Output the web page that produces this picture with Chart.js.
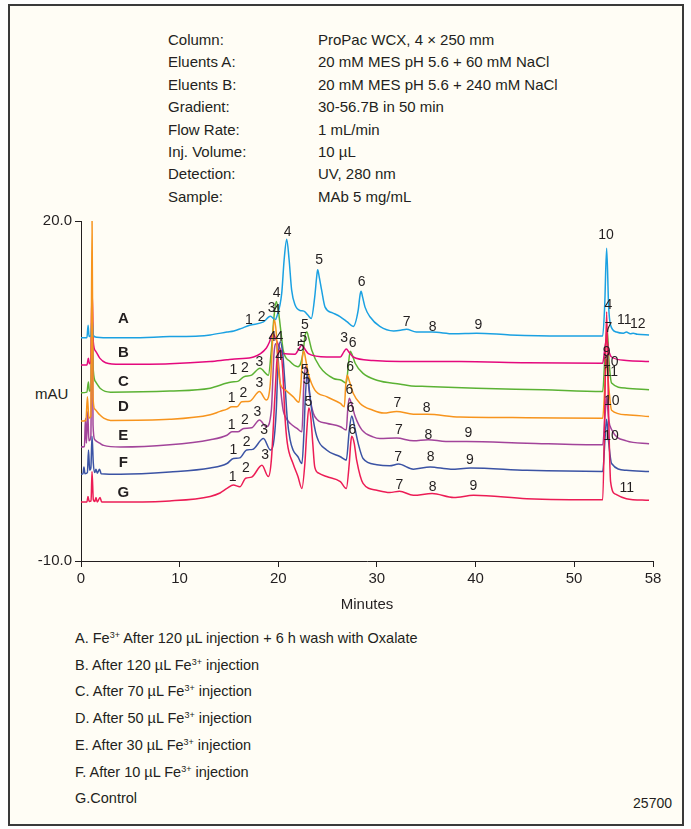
<!DOCTYPE html>
<html>
<head>
<meta charset="utf-8">
<script src="https://cdn.jsdelivr.net/npm/chart.js@4.4.1/dist/chart.umd.min.js"></script>
<style>
  html, body { margin: 0; padding: 0; background: #fff; }
  body { width: 691px; height: 829px; position: relative; overflow: hidden;
         font-family: "Liberation Sans", Arial, sans-serif; color: #231f20; }
  #frame { position: absolute; left: 8px; top: 4px; width: 672px; height: 818px;
           border: 2px solid #3a3a3a; background: #fffdf5; }
  .meta { position: absolute; top: 29px; font-size: 15px; line-height: 22.4px; white-space: nowrap; }
  .legend { position: absolute; left: 75px; top: 625px; font-size: 14.5px; line-height: 26.7px; white-space: nowrap; }
  sup { font-size: 9px; vertical-align: 5px; line-height: 0; }
  #mau { position: absolute; left: 35px; top: 385px; font-size: 15px; }
  #code { position: absolute; right: 19px; top: 795px; font-size: 14px; }
  #wrap { position: absolute; left: 10px; top: 205px; width: 672px; height: 413px; }
</style>
</head>
<body>
<div id="frame"></div>

<div class="meta" style="left:168px">Column:<br>Eluents A:<br>Eluents B:<br>Gradient:<br>Flow Rate:<br>Inj. Volume:<br>Detection:<br>Sample:</div>
<div class="meta" style="left:318px">ProPac WCX, 4 × 250 mm<br>20 mM MES pH 5.6 + 60 mM NaCl<br>20 mM MES pH 5.6 + 240 mM NaCl<br>30-56.7B in 50 min<br>1 mL/min<br>10 µL<br>UV, 280 nm<br>MAb 5 mg/mL</div>

<div id="mau">mAU</div>
<div id="wrap"><canvas id="chromChart" width="672" height="413"></canvas></div>

<div class="legend">
  A. Fe<sup>3+</sup> After 120 µL injection + 6 h wash with Oxalate<br>
  B. After 120 µL Fe<sup>3+</sup> injection<br>
  C. After 70 µL Fe<sup>3+</sup> injection<br>
  D. After 50 µL Fe<sup>3+</sup> injection<br>
  E. After 30 µL Fe<sup>3+</sup> injection<br>
  F. After 10 µL Fe<sup>3+</sup> injection<br>
  G.Control
</div>
<div id="code">25700</div>

<script>
// Traces: [minutes, mAU] (stacked offsets included)
const traceA = [[0, 9.7], [0.6, 9.7], [0.72, 10.8], [0.82, 9.8], [1.0, 9.9], [1.12, 11.4], [1.25, 9.9], [1.6, 9.75],
  [2.5, 9.7], [5, 9.7], [9, 9.8], [12, 9.85], [13.1, 9.95], [14.8, 10.2], [15.5, 10.3], [16.2, 10.5], [17.1, 10.8],
  [18.5, 11.1], [19.2, 11.6], [19.7, 11.3], [19.85, 11.55], [20.35, 13.6], [20.6, 16.6], [20.86, 18.4], [21.1, 16.6],
  [21.36, 13.9], [21.7, 12.6], [22.2, 12.1], [22.6, 12.05], [23.0, 11.7], [23.35, 11.4], [23.7, 13.3], [23.9, 15.1],
  [24.0, 15.7], [24.15, 15.1], [24.4, 13.9], [24.75, 12.4], [25.5, 11.9], [26.3, 11.55], [27.0, 11.1], [27.6, 10.7],
  [28.1, 12.1], [28.3, 13.5], [28.4, 13.8], [28.55, 13.3], [28.8, 12.4], [29.3, 11.55], [30.3, 10.7], [31.7, 10.3],
  [32.4, 10.35], [33.0, 10.45], [34.0, 10.2], [35.6, 10.2], [37.8, 10.05], [40.1, 10.1], [43.5, 9.95], [48.6, 9.85],
  [52.9, 9.85], [53.1, 12.5], [53.3, 17.6], [53.5, 12.5], [53.7, 10.8], [54.3, 10.2], [55.0, 10.1], [55.3, 10.2],
  [55.7, 10.05], [56.0, 10.1], [56.4, 10.0], [57.6, 9.95]];

const traceB = [[0, 7.3], [0.6, 7.3], [0.75, 7.9], [0.85, 7.4], [1.0, 7.6], [1.12, 14.0], [1.25, 9.3], [1.5, 8.5],
  [1.9, 7.9], [2.5, 7.5], [4, 7.35], [9, 7.4], [13.1, 7.6], [14.8, 7.75], [16.0, 7.85], [17.5, 8.0], [18.8, 8.8],
  [19.1, 9.3], [19.45, 10.1], [19.8, 9.5], [20.1, 8.9], [20.5, 8.3], [21.7, 8.25], [22.15, 8.8], [22.4, 9.05],
  [22.7, 8.7], [23.05, 8.3], [24.9, 8.0], [26.3, 8.0], [26.65, 8.45], [26.9, 8.7], [27.2, 8.4], [27.6, 8.0],
  [29.6, 7.7], [32.4, 7.6], [38.4, 7.6], [45.2, 7.5], [52.9, 7.45], [53.15, 9.0], [53.3, 9.6], [53.5, 8.6],
  [53.8, 8.0], [55.3, 7.7], [57.6, 7.6]];

const traceC = [[0, 4.85], [0.6, 4.9], [0.75, 5.8], [0.85, 5.0], [1.0, 5.1], [1.12, 12.0], [1.25, 6.8], [1.5, 5.8],
  [2.0, 5.2], [3, 4.9], [9, 5.0], [13.1, 5.25], [14.8, 5.7], [15.3, 5.8], [15.9, 5.85], [16.5, 6.25], [17.3, 6.4],
  [18.15, 7.0], [19.0, 6.4], [19.3, 8.6], [19.57, 11.55], [19.8, 12.9], [20.0, 12.15], [20.25, 10.4], [20.5, 8.6],
  [21.2, 7.6], [22.0, 7.15], [22.3, 7.5], [22.55, 8.6], [22.7, 9.8], [22.9, 10.2], [23.1, 9.65], [23.4, 8.6],
  [24.2, 7.15], [25.6, 6.1], [26.4, 5.95], [26.9, 5.7], [27.1, 7.2], [27.3, 8.5], [27.5, 8.2], [27.8, 7.45],
  [28.6, 6.55], [30.0, 5.95], [32.4, 5.6], [33.5, 5.45], [35.1, 5.4], [40.1, 5.25], [46.9, 5.1], [52.9, 4.95],
  [53.15, 8.5], [53.35, 10.5], [53.55, 7.5], [53.8, 5.7], [55.3, 5.25], [57.6, 5.1]];

const traceD = [[0, 2.35], [0.5, 2.4], [0.65, 4.5], [0.8, 2.6], [1.0, 2.8], [1.12, 20.3], [1.22, 4.5], [1.4, 3.4],
  [1.9, 2.9], [2.3, 2.6], [3, 2.4], [9, 2.5], [13.1, 2.9], [14.1, 3.2], [14.8, 3.4], [15.3, 3.6], [15.8, 3.6],
  [16.3, 4.05], [17.1, 4.1], [18.1, 4.95], [18.8, 4.2], [19.2, 5.7], [19.45, 9.8], [19.6, 11.3], [19.8, 10.1],
  [19.95, 7.7], [20.2, 5.7], [20.7, 5.1], [21.5, 4.5], [22.1, 4.0], [22.3, 5.6], [22.45, 8.0], [22.6, 8.5],
  [22.8, 7.7], [23.05, 6.55], [23.7, 5.1], [24.9, 4.5], [26.3, 3.9], [26.7, 3.6], [26.85, 5.6], [27.0, 6.4],
  [27.2, 5.9], [27.6, 4.8], [28.3, 3.9], [29.6, 3.3], [30.7, 3.05], [32.0, 3.2], [33.7, 2.95], [35.1, 2.95],
  [38.4, 2.7], [45.2, 2.65], [52.9, 2.6], [53.15, 6.0], [53.3, 7.8], [53.5, 5.5], [53.8, 3.3], [55.3, 2.9],
  [57.6, 2.75]];

const traceE = [[0, 0.05], [0.35, 0.1], [0.45, 2.6], [0.55, 0.4], [0.68, 3.2], [0.8, 0.6], [1.0, 1.0], [1.12, 16.3],
  [1.22, 2.0], [1.4, 0.7], [1.9, 0.4], [2.3, 0.2], [4, 0.05], [9, 0.25], [13.1, 0.7], [14.8, 1.1], [15.3, 1.4],
  [15.9, 1.4], [16.5, 1.7], [17.3, 1.75], [18.1, 2.45], [18.8, 1.85], [19.3, 3.3], [19.57, 8.3], [19.8, 9.2],
  [20.0, 7.7], [20.25, 5.1], [20.5, 3.3], [20.8, 2.6], [21.2, 2.15], [21.9, 1.7], [22.4, 1.4], [22.6, 5.7],
  [22.8, 7.2], [23.05, 5.7], [23.2, 4.5], [23.7, 2.75], [24.9, 2.15], [26.3, 1.85], [26.9, 1.55], [27.05, 3.4],
  [27.2, 4.35], [27.45, 3.8], [27.8, 2.75], [28.5, 1.55], [29.6, 0.95], [30.3, 0.8], [32.0, 0.85], [33.7, 0.6],
  [35.2, 0.7], [37.0, 0.55], [39.1, 0.55], [45.2, 0.4], [52.9, 0.25], [53.15, 3.0], [53.3, 4.5], [53.5, 2.5],
  [53.8, 1.6], [55.3, 0.6], [57.6, 0.35]];

const traceF = [[0, -2.35], [0.2, -2.3], [0.3, -1.7], [0.4, -2.3], [0.65, -2.2], [0.76, -0.2], [0.88, -2.0],
  [1.0, -1.8], [1.12, 1.0], [1.25, -1.4], [1.4, -2.2], [1.52, -1.9], [1.65, -2.25], [1.88, -1.9], [2.05, -2.3],
  [4, -2.35], [9, -2.15], [13.1, -1.8], [14.8, -1.4], [15.45, -0.95], [16.1, -0.9], [16.8, -0.2], [17.4, -0.15],
  [18.5, 0.8], [19.2, -0.2], [19.5, 0.3], [19.8, 3.3], [20.0, 8.0], [20.2, 9.35], [20.45, 8.3], [20.7, 5.4],
  [20.9, 2.7], [21.2, 0.7], [21.5, -0.2], [22.0, -0.8], [22.4, -1.4], [22.6, 1.2], [22.75, 4.5], [22.95, 6.55],
  [23.15, 5.1], [23.4, 3.3], [23.9, 1.0], [24.9, -0.2], [26.3, -0.8], [26.9, -1.1], [27.2, 1.5], [27.45, 2.8],
  [27.7, 2.0], [28.1, 0.4], [28.6, -0.95], [30.0, -1.5], [31.3, -1.6], [32.2, -1.45], [33.7, -1.9], [35.4, -1.7],
  [37.5, -1.9], [39.5, -1.8], [45.2, -2.0], [52.9, -2.1], [53.15, 1.0], [53.3, 2.5], [53.5, 0.5], [53.8, -1.4],
  [55.3, -2.0], [57.6, -2.1]];

const traceG = [[0, -4.8], [0.6, -4.8], [0.71, -4.3], [0.82, -4.75], [1.02, -4.7], [1.12, -2.1], [1.25, -4.6],
  [1.4, -4.75], [1.52, -4.4], [1.65, -4.8], [1.93, -4.4], [2.1, -4.8], [4, -4.8], [9, -4.7], [13.1, -4.3],
  [14.1, -4.0], [14.8, -3.6], [15.45, -3.3], [16.1, -3.45], [16.7, -2.7], [17.3, -2.6], [18.35, -1.55],
  [19.0, -2.55], [19.3, -1.1], [19.66, 4.5], [19.9, 8.0], [20.2, 8.6], [20.45, 6.85], [20.68, 2.75], [20.92, 0.4],
  [21.5, -1.4], [22.0, -2.55], [22.4, -3.6], [22.7, -1.4], [22.9, 1.55], [23.1, 3.5], [23.3, 2.7], [23.5, 0.4],
  [23.7, -1.7], [24.1, -2.25], [24.9, -2.55], [26.3, -3.0], [26.9, -3.6], [27.2, -1.4], [27.35, 0.4], [27.45, 1.0],
  [27.7, 0.4], [27.95, -1.1], [28.6, -3.15], [30.0, -3.75], [31.3, -3.95], [32.3, -3.85], [33.7, -4.2],
  [35.6, -4.05], [37.8, -4.4], [39.8, -4.2], [45.2, -4.5], [52.9, -4.6], [53.1, 3.0], [53.3, 12.0], [53.5, 3.0],
  [53.7, -3.0], [54.2, -4.1], [55.3, -4.5], [57.6, -4.65]];

const traceNames = ['A', 'B', 'C', 'D', 'E', 'F', 'G'];
const traceLetterY = [11.4, 8.33, 5.82, 3.62, 1.03, -1.38, -3.97];  // mAU where the bold letters sit
const traceLetterMin = 4.29;
const xTicks = [0, 10, 20, 30, 40, 50, 58];
const yTicks = [-10, 20];

// Peak numbers: [text, minutes, mAU]
const peakLabels = [
  ['1', 17.03, 11.26], ['2', 18.32, 11.56], ['3', 19.34, 12.3], ['4', 19.84, 13.62], ['4', 19.84, 12.15],
  ['4', 20.96, 19.06], ['5', 24.16, 16.56], ['6', 28.46, 14.64], ['7', 33.03, 11.11], ['8', 35.66, 10.67],
  ['9', 40.29, 10.82], ['10', 53.24, 18.76], ['11', 55.09, 11.26], ['12', 56.45, 10.91],
  ['4', 53.47, 12.59], ['7', 53.47, 10.53], ['9', 53.31, 8.47], ['10', 53.71, 7.58], ['11', 53.71, 6.7],
  ['10', 53.81, 4.14], ['10', 53.74, 1.03], ['11', 55.33, -3.59],
  ['5', 22.71, 10.82], ['5', 22.54, 9.65], ['5', 22.28, 8.91], ['5', 22.71, 6.85], ['5', 22.89, 5.97],
  ['5', 23.05, 4.06], ['3', 26.67, 9.65], ['6', 27.55, 9.21], ['6', 27.28, 7.14], ['6', 27.21, 5.09],
  ['6', 27.35, 3.47], ['6', 27.51, 1.56], ['4', 19.4, 9.79], ['4', 20.11, 9.79], ['4', 20.08, 8.09],
  ['1', 15.44, 6.85], ['2', 16.63, 7.0], ['3', 18.08, 7.59],
  ['1', 15.28, 4.36], ['2', 16.46, 4.85], ['3', 18.08, 5.68], ['7', 32.07, 3.97], ['8', 35.05, 3.47],
  ['1', 15.28, 2.0], ['2', 16.63, 2.44], ['3', 17.88, 3.17], ['7', 32.24, 1.56], ['8', 35.22, 1.12], ['9', 39.27, 1.27],
  ['1', 15.44, -0.21], ['2', 16.8, 0.53], ['3', 18.56, 1.56], ['7', 32.17, -0.85], ['8', 35.46, -0.85], ['9', 39.44, -1.09],
  ['1', 15.38, -2.56], ['2', 16.73, -1.82], ['3', 18.66, -0.65], ['7', 32.28, -3.29], ['8', 35.66, -3.44], ['9', 39.78, -3.38]
];

const FONT = '"Liberation Sans", Arial, sans-serif';
const INK = '#231f20';

const traces = [traceA, traceB, traceC, traceD, traceE, traceF, traceG];
const colors = ['#1ba1e2', '#e4097d', '#5bb234', '#f7941d', '#a2449a', '#3b53a4', '#ec1c55'];
const drawOrder = [3, 5, 6, 1, 4, 2, 0];  // lower = drawn on top

// Peak numbers and trace letters
const labelPlugin = {
  id: 'peakLabels',
  afterDatasetsDraw(chart) {
    const { ctx, scales: { x, y } } = chart;
    ctx.save();
    ctx.fillStyle = INK;
    ctx.textAlign = 'center';
    ctx.textBaseline = 'middle';
    ctx.font = '14px ' + FONT;
    peakLabels.forEach(([t, m, v]) => ctx.fillText(t, x.getPixelForValue(m), y.getPixelForValue(v)));
    ctx.font = 'bold 15px ' + FONT;
    traceNames.forEach((n, i) => ctx.fillText(n, x.getPixelForValue(traceLetterMin), y.getPixelForValue(traceLetterY[i])));
    ctx.restore();
  }
};

Chart.defaults.font.family = FONT;
Chart.defaults.color = INK;

const ctx = document.getElementById('chromChart').getContext('2d');
new Chart(ctx, {
  type: 'line',
  data: {
    datasets: traces.map((t, i) => ({
      label: traceNames[i],
      data: t.map(p => ({ x: p[0], y: p[1] })),
      borderColor: colors[i],
      borderWidth: 1.5,
      pointRadius: 0,
      fill: false,
      cubicInterpolationMode: 'monotone',
      order: drawOrder[i]
    }))
  },
  options: {
    responsive: false,
    animation: false,
    events: [],
    layout: { padding: { top: 16, right: 29, bottom: 4, left: 0 } },
    plugins: { legend: { display: false }, tooltip: { enabled: false } },
    scales: {
      x: {
        type: 'linear', min: 0, max: 58,
        afterBuildTicks: s => { s.ticks = xTicks.map(v => ({ value: v })); },
        afterFit: s => { s.height = 53; },
        grid: { drawOnChartArea: false, tickLength: 6, color: INK, lineWidth: 1 },
        border: { color: INK, width: 1 },
        ticks: { color: INK, font: { size: 15 }, padding: 3, maxRotation: 0, autoSkip: false },
        title: { display: true, text: 'Minutes', color: INK, font: { size: 15 }, padding: { top: 0, bottom: 0 } }
      },
      y: {
        min: -10, max: 20,
        afterBuildTicks: s => { s.ticks = yTicks.map(v => ({ value: v })); },
        afterFit: s => { s.width = 71; },
        grid: { drawOnChartArea: false, tickLength: 6, color: INK, lineWidth: 1 },
        border: { color: INK, width: 1 },
        ticks: { color: INK, font: { size: 15 }, padding: 3, callback: v => v.toFixed(1) }
      }
    }
  },
  plugins: [labelPlugin]
});
</script>
</body>
</html>
